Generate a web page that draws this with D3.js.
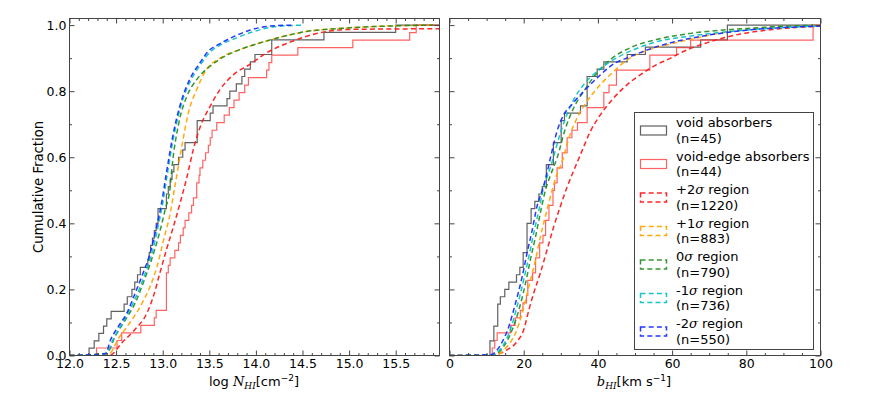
<!DOCTYPE html>
<html>
<head>
<meta charset="UTF-8">
<script src="https://d3js.org/d3.v7.min.js"></script>
<style>
  body { margin: 0; background: #fff; }
  svg { font-family: "DejaVu Sans", sans-serif; }
</style>
</head>
<body>
<svg id="chart" width="872" height="396"></svg>
<script>
// ---- data ----
// sample values (sorted) for the two absorber sets
const voidNHI = [12.21, 12.265, 12.315, 12.365, 12.40, 12.447, 12.586, 12.62, 12.67, 12.70,
  12.73, 12.76, 12.84, 12.855, 12.87, 12.89, 12.91, 12.93, 12.95, 12.95,
  13.04, 13.04, 13.06, 13.08, 13.10, 13.12, 13.17, 13.215, 13.24, 13.37,
  13.37, 13.37, 13.51, 13.54, 13.69, 13.72, 13.79, 13.85, 13.88, 13.94,
  13.99, 14.17, 14.17, 14.73, 15.50];
const edgeNHI = [12.29, 12.51, 12.56, 12.765, 12.91, 12.93, 13.04, 13.04, 13.04, 13.04,
  13.04, 13.06, 13.08, 13.13, 13.17, 13.19, 13.22, 13.24, 13.28, 13.31,
  13.33, 13.365, 13.365, 13.39, 13.40, 13.43, 13.46, 13.49, 13.51, 13.53,
  13.58, 13.66, 13.715, 13.765, 13.82, 13.88, 13.92, 14.115, 14.14, 14.17,
  14.45, 15.04, 15.65, 15.72];
const voidB = [10.9, 10.9, 11.95, 11.95, 13.0, 13.0, 13.0, 13.7, 14.9, 16.0,
  18.06, 18.96, 19.86, 19.86, 20.9, 20.9, 20.9, 20.9, 22.0, 22.0,
  23.0, 24.1, 25.0, 26.1, 26.1, 26.1, 28.0, 28.0, 28.0, 30.1,
  30.1, 30.1, 31.0, 35.3, 37.1, 37.1, 37.1, 37.1, 39.8, 41.6,
  47.9, 52.8, 67.7, 74.9, 74.9];
const edgeB = [11.5, 12.2, 12.85, 16.4, 17.7, 19.1, 19.8, 20.75, 21.1, 21.1,
  22.4, 23.2, 23.2, 24.3, 24.3, 25.2, 25.9, 25.9, 26.8, 26.8,
  27.9, 27.9, 28.3, 29.0, 29.0, 30.4, 30.4, 31.7, 31.7, 33.0,
  34.5, 37.1, 37.1, 41.6, 41.6, 43.0, 45.0, 45.0, 54.0, 54.0,
  61.2, 65.0, 98.0, 98.0];

// cumulative curves of the simulated regions: [value, fraction]
const p2NHI = [[12.44,0.002],[12.56,0.038],[12.70,0.078],[12.83,0.128],[12.90,0.179],[12.97,0.25],[13.04,0.32],[13.115,0.39],[13.185,0.46],[13.26,0.54],[13.33,0.625],[13.40,0.69],[13.51,0.755],[13.615,0.805],[13.76,0.85],[13.94,0.882],[14.115,0.916],[14.40,0.952],[14.69,0.977],[15.01,0.987],[15.97,0.989]];
const p1NHI = [[12.42,0.005],[12.54,0.058],[12.67,0.108],[12.78,0.159],[12.865,0.209],[12.94,0.27],[13.01,0.35],[13.08,0.43],[13.13,0.51],[13.205,0.633],[13.275,0.734],[13.365,0.805],[13.47,0.866],[13.615,0.90],[13.83,0.926],[14.115,0.952],[14.47,0.977],[15.01,0.992],[15.9,1.0]];
const z0NHI = [[12.40,0.007],[12.49,0.058],[12.60,0.108],[12.705,0.159],[12.79,0.219],[12.88,0.29],[12.955,0.36],[13.025,0.44],[13.08,0.51],[13.10,0.57],[13.17,0.70],[13.26,0.785],[13.365,0.835],[13.51,0.876],[13.63,0.90],[13.83,0.926],[14.115,0.952],[14.47,0.977],[15.01,0.992],[15.9,1.0]];
const m1NHI = [[12.39,0.005],[12.47,0.05],[12.56,0.095],[12.65,0.14],[12.74,0.195],[12.82,0.255],[12.89,0.315],[12.95,0.39],[13.00,0.46],[13.05,0.55],[13.12,0.665],[13.21,0.77],[13.30,0.832],[13.41,0.882],[13.50,0.916],[13.62,0.94],[13.78,0.96],[13.96,0.979],[14.2,0.995],[14.5,1.0]];
const m2NHI = [[12.385,0.005],[12.44,0.047],[12.525,0.088],[12.615,0.128],[12.705,0.189],[12.79,0.25],[12.865,0.31],[12.935,0.39],[12.99,0.465],[13.04,0.553],[13.115,0.674],[13.205,0.775],[13.29,0.836],[13.40,0.886],[13.49,0.921],[13.615,0.944],[13.76,0.965],[13.94,0.985],[14.19,0.998],[14.4,1.0]];

const p2B = [[11.9,0.002],[15.5,0.017],[18.2,0.042],[20.0,0.078],[21.4,0.138],[22.7,0.189],[24.5,0.25],[26.3,0.32],[28.1,0.39],[29.9,0.452],[31.7,0.51],[33.5,0.56],[35.3,0.608],[38.0,0.679],[40.7,0.729],[44.3,0.78],[47.9,0.82],[51.5,0.85],[55.1,0.876],[59.6,0.90],[63.2,0.921],[69.5,0.947],[78.4,0.973],[87.4,0.987],[100,0.997]];
const p1B = [[12.4,0.002],[15.5,0.027],[17.8,0.068],[19.6,0.128],[21.4,0.209],[23.2,0.29],[24.5,0.36],[26.1,0.432],[27.7,0.502],[29.0,0.55],[30.4,0.588],[32.2,0.659],[34.4,0.719],[37.1,0.77],[40.7,0.82],[44.3,0.86],[47.9,0.895],[52.4,0.92],[57.8,0.938],[65.0,0.957],[71.2,0.972],[80.2,0.987],[98.2,0.999]];
const z0B = [[11.9,0.002],[14.6,0.027],[16.9,0.078],[18.7,0.138],[20.5,0.219],[21.8,0.29],[23.2,0.36],[24.5,0.432],[25.9,0.502],[27.2,0.545],[29.0,0.598],[31.3,0.689],[33.5,0.75],[36.2,0.80],[39.8,0.856],[43.4,0.896],[48.8,0.932],[56.0,0.957],[65.0,0.975],[80.2,0.99],[98,1.0]];
const m1B = [[11.5,0.002],[14.2,0.027],[16.4,0.078],[18.2,0.148],[20.0,0.229],[21.4,0.30],[22.7,0.37],[24.1,0.44],[25.4,0.51],[26.3,0.54],[27.7,0.588],[29.5,0.659],[31.3,0.719],[33.5,0.775],[36.2,0.82],[39.8,0.86],[44.3,0.896],[49.7,0.926],[56.0,0.95],[65.0,0.967],[80,0.985],[100,0.998]];
const m2B = [[11.05,0.002],[13.75,0.032],[16.0,0.088],[17.8,0.159],[19.6,0.239],[20.9,0.31],[22.3,0.38],[23.6,0.452],[25.0,0.50],[25.9,0.535],[27.2,0.598],[29.0,0.679],[30.8,0.729],[33.0,0.76],[36.2,0.80],[39.8,0.84],[43.4,0.876],[48.8,0.905],[56.0,0.935],[65.0,0.96],[78,0.982],[100,0.997]];

const legendLabels = ["void absorbers", "void-edge absorbers", "+2σ region", "+1σ region", "0σ region", "-1σ region", "-2σ region"];
const legendCounts = [45, 44, 1220, 883, 790, 736, 550];

const nhiTicks = [12.0, 12.5, 13.0, 13.5, 14.0, 14.5, 15.0, 15.5];
const bTicks = [0, 20, 40, 60, 80, 100];
const fracTicks = [0.0, 0.2, 0.4, 0.6, 0.8, 1.0];

// ---- styles ----
const colors = ["#444444", "#ff3b3b", "#ff1a1a", "#ffa500", "#1f8a1f", "#00c0c0", "#1a2cff"];
const dashed = [false, false, true, true, true, true, true];
const opac = [0.85, 0.8, 0.95, 0.95, 0.9, 0.9, 0.95];
const dash = "5,3.2";

const svg = d3.select("#chart");
const top0 = 18.5, bot0 = 355.5;
const y = d3.scaleLinear().domain([0, 1.02]).range([bot0, top0]);

function panel(x, steps, curves, xTicks, minorStep, fmt, showY, id) {
  const [x0, x1] = x.range();
  const g = svg.append("g");
  g.append("clipPath").attr("id", id).append("rect")
    .attr("x", x0).attr("y", top0).attr("width", x1 - x0).attr("height", bot0 - top0);
  const plot = g.append("g").attr("clip-path", "url(#" + id + ")");
  const [dmin, dmax] = x.domain();

  const stepLine = d3.line().x(d => x(d[0])).y(d => y(d[1])).curve(d3.curveStepAfter);
  steps.forEach((vals, i) => {
    const n = vals.length;
    const pts = [[dmin, 0]].concat(vals.map((v, k) => [v, (k + 1) / n]), [[dmax + 1, 1]]);
    plot.append("path").attr("d", stepLine(pts))
      .attr("fill", "none").attr("stroke", colors[i]).attr("stroke-opacity", opac[i])
      .attr("stroke-width", 1.2);
  });
  const smooth = d3.line().x(d => x(d[0])).y(d => y(d[1])).curve(d3.curveMonotoneX);
  curves.forEach((pts, j) => {
    const i = j + 2;
    const all = [[dmin, 0]].concat(pts);
    plot.append("path").attr("d", smooth(all))
      .attr("fill", "none").attr("stroke", colors[i]).attr("stroke-opacity", opac[i])
      .attr("stroke-width", 1.5).attr("stroke-dasharray", dash);
  });

  // ticks, all pointing inwards
  const minor = d3.range(dmin, dmax + 1e-9, minorStep).filter(v => !xTicks.some(t => Math.abs(t - v) < 1e-6));
  const yMinor = [0.1, 0.3, 0.5, 0.7, 0.9];
  g.append("g").attr("transform", `translate(0,${bot0})`)
    .call(d3.axisBottom(x).tickValues(xTicks).tickSize(-5).tickPadding(4).tickFormat(fmt));
  g.append("g").attr("transform", `translate(0,${bot0})`)
    .call(d3.axisBottom(x).tickValues(minor).tickSize(-2.5).tickFormat(""));
  g.append("g").attr("transform", `translate(0,${top0})`)
    .call(d3.axisTop(x).tickValues(xTicks).tickSize(-5).tickFormat(""));
  g.append("g").attr("transform", `translate(0,${top0})`)
    .call(d3.axisTop(x).tickValues(minor).tickSize(-2.5).tickFormat(""));
  g.append("g").attr("transform", `translate(${x0},0)`)
    .call(d3.axisLeft(y).tickValues(fracTicks).tickSize(-5).tickPadding(3)
      .tickFormat(showY ? d3.format(".1f") : ""));
  g.append("g").attr("transform", `translate(${x0},0)`)
    .call(d3.axisLeft(y).tickValues(yMinor).tickSize(-2.5).tickFormat(""));
  g.append("g").attr("transform", `translate(${x1},0)`)
    .call(d3.axisRight(y).tickValues(fracTicks).tickSize(-5).tickFormat(""));
  g.append("g").attr("transform", `translate(${x1},0)`)
    .call(d3.axisRight(y).tickValues(yMinor).tickSize(-2.5).tickFormat(""));
  g.selectAll(".domain").remove();
  g.selectAll(".tick line").attr("stroke", "#444");
  g.selectAll(".tick text").attr("font-family", "DejaVu Sans").attr("font-size", 12.5).attr("fill", "#000");

  g.append("rect").attr("x", x0).attr("y", top0).attr("width", x1 - x0).attr("height", bot0 - top0)
    .attr("fill", "none").attr("stroke", "#444").attr("stroke-width", 1);
  return g;
}

const xN = d3.scaleLinear().domain([12, 15.97]).range([69.5, 439.5]);
const xB = d3.scaleLinear().domain([0, 100]).range([449.5, 820.5]);

panel(xN, [voidNHI, edgeNHI], [p2NHI, p1NHI, z0NHI, m1NHI, m2NHI], nhiTicks, 0.1, d3.format(".1f"), true, "clipN");
panel(xB, [voidB, edgeB], [p2B, p1B, z0B, m1B, m2B], bTicks, 5, d3.format("d"), false, "clipB");

// axis labels
svg.append("text").attr("transform", "translate(43,187) rotate(-90)")
  .attr("text-anchor", "middle").attr("font-size", 13.2).text("Cumulative Fraction");

function mathLabel(cx, parts) {
  const t = svg.append("text").attr("x", cx).attr("y", 386).attr("text-anchor", "middle").attr("font-size", 13);
  parts.forEach(p => {
    const s = t.append("tspan").text(p.t);
    if (p.it) s.attr("font-family", "DejaVu Serif").attr("font-style", "italic");
    if (p.sub) s.attr("font-size", 9).attr("baseline-shift", "-3");
    if (p.sup) s.attr("font-size", 9).attr("baseline-shift", "5");
  });
}
mathLabel(254, [{t: "log "}, {t: "N", it: true}, {t: "HI", it: true, sub: true}, {t: "[cm"}, {t: "−2", sup: true}, {t: "]"}]);
mathLabel(634, [{t: "b", it: true}, {t: "HI", it: true, sub: true}, {t: "[km s"}, {t: "−1", sup: true}, {t: "]"}]);

// legend
const lg = svg.append("g");
lg.append("rect").attr("x", 634.5).attr("y", 112.5).attr("width", 179).attr("height", 237)
  .attr("fill", "#fff").attr("stroke", "#444").attr("stroke-width", 1);
legendLabels.forEach((lab, i) => {
  const cy = 130.5 + i * 33.5;
  lg.append("rect").attr("x", 640.5).attr("y", cy - 4.5).attr("width", 26).attr("height", 9)
    .attr("fill", "none").attr("stroke", colors[i]).attr("stroke-opacity", opac[i])
    .attr("stroke-width", dashed[i] ? 1.5 : 1.2)
    .attr("stroke-dasharray", dashed[i] ? dash : null);
  const t = lg.append("text").attr("x", 676).attr("y", cy - 3.5).attr("font-size", 13);
  const parts = lab.split("σ");
  t.append("tspan").text(parts[0]);
  if (parts.length > 1) {
    t.append("tspan").attr("font-family", "DejaVu Serif").attr("font-style", "italic").text("σ");
    t.append("tspan").text(parts[1]);
  }
  lg.append("text").attr("x", 676).attr("y", cy + 12).attr("font-size", 13)
    .text("(n=" + legendCounts[i] + ")");
});
</script>
</body>
</html>
